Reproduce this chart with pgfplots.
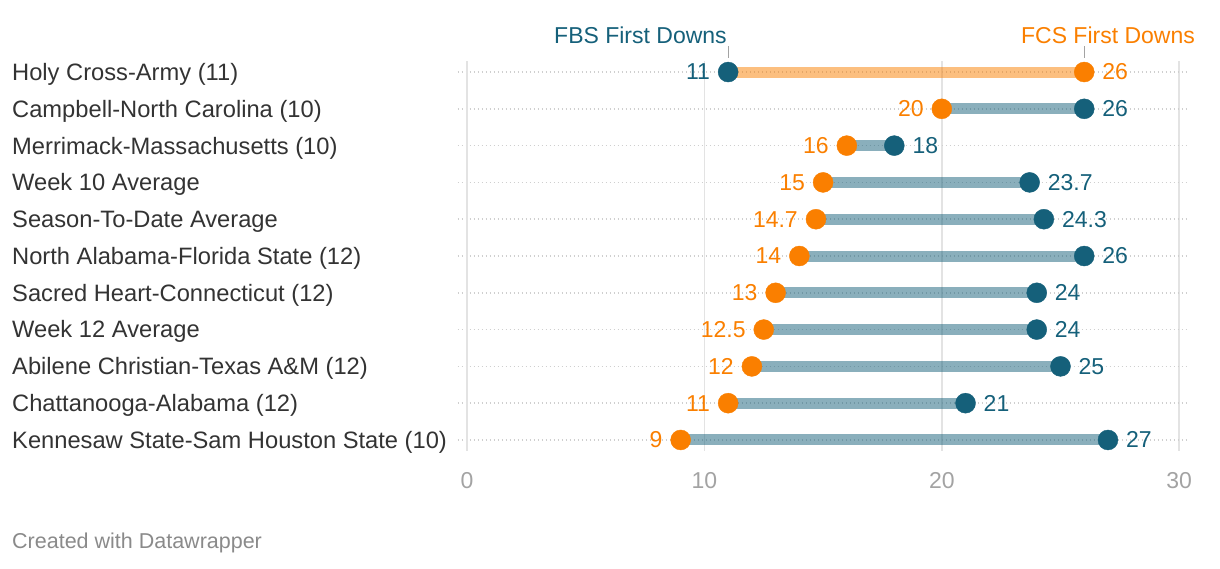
\documentclass[border=0pt]{standalone}
\usepackage{pgfplots}
\pgfplotsset{compat=1.18}
\usepackage{pgfplotstable}
\usepackage{fontspec}
\setmainfont{Liberation Sans}
\definecolor{fbs}{HTML}{15607A}
\definecolor{fcs}{HTML}{FA7F00}
\definecolor{txt}{HTML}{333333}
\definecolor{tickc}{HTML}{A3A3A3}
\definecolor{gridc}{HTML}{E3E3E3}
\definecolor{zeroc}{HTML}{C4C4C4}
\definecolor{dotc}{HTML}{CFCFCF}
\definecolor{footc}{HTML}{8A8A8A}

\pgfplotstableread{
row fbs fcs
0 11 26
1 26 20
2 18 16
3 23.7 15
4 24.3 14.7
5 26 14
6 24 13
7 24 12.5
8 25 12
9 21 11
10 27 9
}\data

\newcommand{\lblfont}{\fontsize{23}{27}\selectfont}
\newcommand{\rowfont}{\fontsize{23.7}{28}\selectfont}

\begin{document}
\begin{tikzpicture}
\path[use as bounding box] (0,0) rectangle (1220pt,568pt);
\begin{axis}[
  at={(457.5pt,117pt)}, anchor=south west,
  scale only axis, width=730pt, height=390pt,
  xmin=-0.4, xmax=30.35, ymin=-0.3, ymax=10.3,
  y dir=reverse,
  clip=false,
  axis line style={draw=none},
  major tick length=0pt,
  xtick={10,20,30},
  extra x ticks={0},
  extra x tick style={grid style={draw=zeroc, line width=2pt, solid}},
  xmajorgrids, ymajorgrids,
  x grid style={draw=gridc, line width=1.5pt},
  y grid style={draw=dotc, line width=1.5pt, dash pattern=on 1.6pt off 2.4pt},
  xticklabel style={font=\lblfont, color=tickc, anchor=base, inner sep=0pt, yshift=-37pt},
  ytick={0,...,10},
  yticklabels={Holy Cross-Army (11), Campbell-North Carolina (10), Merrimack-Massachusetts (10), Week 10 Average, Season-To-Date Average, North Alabama-Florida State (12), Sacred Heart-Connecticut (12), Week 12 Average, Abilene Christian-Texas A\&M (12), Chattanooga-Alabama (12), Kennesaw State-Sam Houston State (10)},
  yticklabel style={font=\rowfont, color=txt, anchor=base west, inner sep=0pt, xshift=-445.5pt, yshift=-8.4pt},
  /pgf/number format/assume math mode=true,
  dot/.style={only marks, mark=*, mark size=10pt, mark options={draw=#1, fill=#1}, point meta=x,
    nodes near coords={\pgfmathprintnumber[fixed,precision=1,assume math mode=true]{\pgfplotspointmeta}}},
  bar/.style={draw=#1, opacity=0.5, line width=11pt, line cap=butt, mark=none, forget plot},
]
% bars
\addplot[bar=fcs] coordinates {(11,0) (26,0)};
\addplot[bar=fbs] coordinates {(20,1) (26,1)};
\addplot[bar=fbs] coordinates {(16,2) (18,2)};
\addplot[bar=fbs] coordinates {(15,3) (23.7,3)};
\addplot[bar=fbs] coordinates {(14.7,4) (24.3,4)};
\addplot[bar=fbs] coordinates {(14,5) (26,5)};
\addplot[bar=fbs] coordinates {(13,6) (24,6)};
\addplot[bar=fbs] coordinates {(12.5,7) (24,7)};
\addplot[bar=fbs] coordinates {(12,8) (25,8)};
\addplot[bar=fbs] coordinates {(11,9) (21,9)};
\addplot[bar=fbs] coordinates {(9,10) (27,10)};
% FBS dots, label right (rows 1-10)
\addplot[dot=fbs,
  skip coords between index={0}{1},
  every node near coord/.style={anchor=west, xshift=18pt, font=\lblfont, text=fbs, inner sep=0pt}]
  table[x=fbs, y=row]{\data};
% FBS dot row 0, label left
\addplot[dot=fbs,
  skip coords between index={1}{11},
  every node near coord/.style={anchor=east, xshift=-18pt, font=\lblfont, text=fbs, inner sep=0pt}]
  table[x=fbs, y=row]{\data};
% FCS dots, label left (rows 1-10)
\addplot[dot=fcs,
  skip coords between index={0}{1},
  every node near coord/.style={anchor=east, xshift=-18pt, font=\lblfont, text=fcs, inner sep=0pt}]
  table[x=fcs, y=row]{\data};
% FCS dot row 0, label right
\addplot[dot=fcs,
  skip coords between index={1}{11},
  every node near coord/.style={anchor=west, xshift=18pt, font=\lblfont, text=fcs, inner sep=0pt}]
  table[x=fcs, y=row]{\data};
% headers
\node[anchor=base east, font=\lblfont, text=fbs, inner sep=0pt] at (axis cs:10.95,-0.788) {FBS First Downs};
\node[anchor=base east, font=\lblfont, text=fcs, inner sep=0pt] at (axis cs:30.67,-0.788) {FCS First Downs};
\draw[color=tickc, line width=1.2pt] (axis cs:11,-0.707) -- (axis cs:11,-0.38);
\draw[color=tickc, line width=1.2pt] (axis cs:26,-0.707) -- (axis cs:26,-0.38);
\end{axis}
\node[anchor=base west, inner sep=0pt, font=\fontsize{21.5}{25}\selectfont, text=footc] at (12pt,20pt) {Created with Datawrapper};
\end{tikzpicture}
\end{document}
